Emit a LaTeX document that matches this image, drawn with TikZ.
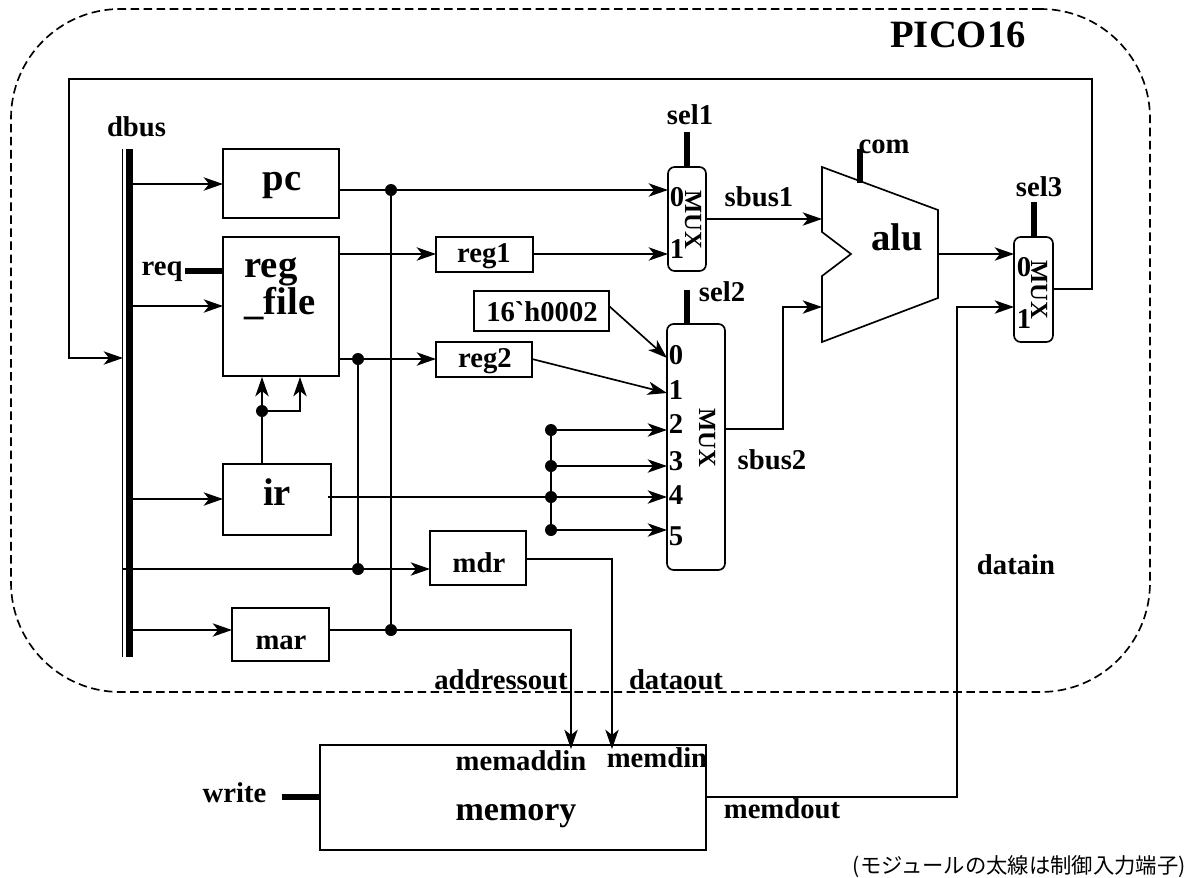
\documentclass[tikz,border=0pt]{standalone}
\usepackage{fontspec}
\setmainfont{Liberation Serif}
\newfontfamily\rawserif{Liberation Serif}
\newfontfamily\jpfont{Noto Sans CJK JP}
\usetikzlibrary{arrows.meta}
\newcommand\bxat[6]{% name x1 y1 x2 y2 style
  \pgfmathsetmacro\cxx{(#2+#4)/2}\pgfmathsetmacro\cyy{(#3+#5)/2}
  \pgfmathsetmacro\bww{(#4-#2)*0.75}\pgfmathsetmacro\bhh{(#5-#3)*0.75}
  \node[#6,minimum width=\bww pt,minimum height=\bhh pt] (#1) at (\cxx,\cyy) {};}
\tikzset{
  x=0.75pt,y=-0.75pt,
  wire/.style={line width=1.25pt,line join=miter},
  arr/.style={wire,-{Stealth[length=14.5pt,width=10pt,inset=4pt]}},
  ctl/.style={line width=4.3pt},
  box/.style={draw,line width=1.25pt,inner sep=0pt,outer sep=0pt},
  muxbox/.style={box,rounded corners=5pt},
  dot/.style={circle,fill=black,inner sep=0pt,minimum size=9pt},
  lab/.style={inner sep=0pt,anchor=base,font=\fontsize{21.5}{24}\selectfont\bfseries},
  big/.style={inner sep=0pt,anchor=base,font=\fontsize{29}{32}\selectfont\bfseries},
  mem/.style={inner sep=0pt,anchor=base,font=\fontsize{25.5}{28}\selectfont\bfseries},
  mux/.style={inner sep=0pt,font=\fontsize{18.5}{20}\selectfont\bfseries,rotate=-90},
}
\begin{document}
\begin{tikzpicture}
\useasboundingbox (0,0) rectangle (1200,878);
% chip outline
\bxat{chip}{11}{9}{1150}{692}{draw,line width=1.25pt,inner sep=0pt,rounded corners=82pt,dash pattern=on 6.4pt off 3.4pt}
% bus
\coordinate (busTop) at (129.5,149); \coordinate (busBot) at (129.5,657);
\draw[line width=5.2pt] (busTop) -- (busBot);
\coordinate (thinTop) at (122.5,149); \coordinate (thinBot) at (122.5,657);
\draw[wire] (thinTop) -- (thinBot);
% boxes
\bxat{pc}{223}{149}{339}{218}{box}
\bxat{rf}{223}{237}{339}{376}{box}
\bxat{ir}{223}{464}{331}{535}{box}
\bxat{mar}{232}{608}{329}{661}{box}
\bxat{reg1}{436}{237}{533}{272}{box}
\bxat{reg2}{436}{342}{532}{377}{box}
\bxat{konst}{474}{291}{609}{331}{box}
\bxat{mdr}{430}{531}{526}{585}{box}
\bxat{memory}{320}{745}{706}{850}{box}
\bxat{muxA}{668}{167}{706}{271}{muxbox}
\bxat{muxB}{667}{324}{725}{570}{muxbox}
\bxat{muxC}{1014}{237}{1053}{342}{muxbox}
% alu
\draw[wire,line join=miter] (822,167) -- (938,210) -- (938,298) -- (822,342) -- (822,276) -- (851,254) -- (822,232) -- cycle;
\coordinate (aluA) at (822,219); \coordinate (aluB) at (822,307); \coordinate (aluOut) at (938,254);
% junction dots
\node[dot] (j1) at (391,190) {};
\node[dot] (j2) at (391,630) {};
\node[dot] (j3) at (358,359) {};
\node[dot] (j4) at (358,569) {};
\node[dot] (j5) at (262,411) {};
\node[dot] (k2) at (551,430) {};
\node[dot] (k3) at (551,466) {};
\node[dot] (k4) at (551,497) {};
\node[dot] (k5) at (551,530) {};
% pins
\coordinate (fbOut) at (1053,289); \coordinate (fbA) at (1092,289); \coordinate (fbB) at (1092,79);
\coordinate (fbC) at (69,79); \coordinate (fbD) at (69,358); \coordinate (fbE) at (123,358);
\coordinate (bPc) at (133,184); \coordinate (pcIn) at (223,184);
\coordinate (bRf) at (133,306); \coordinate (rfIn) at (223,306);
\coordinate (bIr) at (133,499); \coordinate (irIn) at (223,499);
\coordinate (bMd) at (122,569); \coordinate (mdIn) at (430,569);
\coordinate (bMa) at (133,630); \coordinate (maIn) at (232,630);
\coordinate (pcOut) at (339,190); \coordinate (a0) at (668,190);
\coordinate (rfO1) at (339,254); \coordinate (r1In) at (436,254);
\coordinate (r1Out) at (533,254); \coordinate (a1) at (668,254);
\coordinate (rfO2) at (339,359); \coordinate (r2In) at (436,359);
\coordinate (r2Out) at (532,359); \coordinate (b1) at (667,393);
\coordinate (kOut) at (609,306); \coordinate (b0) at (667,358);
\coordinate (b2) at (667,430); \coordinate (b3) at (667,466); \coordinate (b4) at (667,497); \coordinate (b5) at (667,530);
\coordinate (irOut) at (328,497);
\coordinate (irTop) at (262,464); \coordinate (rfB1) at (262,377); \coordinate (rfB2) at (300,377);
\coordinate (j5r) at (300,411);
\coordinate (maOut) at (329,630); \coordinate (maC) at (571,630); \coordinate (memA) at (571,749);
\coordinate (mdOut) at (526,559); \coordinate (mdC) at (612,559); \coordinate (memD) at (612,749);
\coordinate (aOut) at (706,219);
\coordinate (bOut) at (725,429); \coordinate (bC) at (783,429); \coordinate (bD) at (783,307);
\coordinate (c0) at (1014,254); \coordinate (c1) at (1014,307);
\coordinate (mOut) at (706,797); \coordinate (mC) at (957,797); \coordinate (mD) at (957,307);
% connectors
\draw[arr] (fbOut) -- (fbA) -- (fbB) -- (fbC) -- (fbD) -- (fbE);
\draw[arr] (bPc) -- (pcIn);
\draw[arr] (bRf) -- (rfIn);
\draw[arr] (bIr) -- (irIn);
\draw[arr] (bMd) -- (mdIn);
\draw[arr] (bMa) -- (maIn);
\draw[arr] (pcOut) -- (a0);
\draw[wire] (j1) -- (j2);
\draw[arr] (rfO1) -- (r1In);
\draw[arr] (r1Out) -- (a1);
\draw[arr] (rfO2) -- (r2In);
\draw[wire] (j3) -- (j4);
\draw[arr] (r2Out) -- (b1);
\draw[arr] (kOut) -- (b0);
\draw[arr] (k2) -- (b2);
\draw[arr] (k3) -- (b3);
\draw[arr] (irOut) -- (b4);
\draw[arr] (k5) -- (b5);
\draw[wire] (k2) -- (k5);
\draw[arr] (irTop) -- (rfB1);
\draw[arr] (j5) -- (j5r) -- (rfB2);
\draw[arr] (maOut) -- (maC) -- (memA);
\draw[arr] (mdOut) -- (mdC) -- (memD);
\draw[arr] (aOut) -- (aluA);
\draw[arr] (bOut) -- (bC) -- (bD) -- (aluB);
\draw[arr] (aluOut) -- (c0);
\draw[arr] (mOut) -- (mC) -- (mD) -- (c1);
% control stubs
\coordinate (s1) at (687,132); \coordinate (s1b) at (687,167);
\coordinate (s2) at (687,290); \coordinate (s2b) at (687,324);
\coordinate (s3) at (1034,202); \coordinate (s3b) at (1034,237);
\coordinate (sc) at (860,149); \coordinate (scb) at (860,183);
\coordinate (sr) at (185,271); \coordinate (srb) at (223,271);
\coordinate (sw) at (282,797); \coordinate (swb) at (320,797);
\draw[ctl] (s1) -- (s1b); \draw[ctl] (s2) -- (s2b); \draw[ctl] (s3) -- (s3b);
\draw[ctl] (sc) -- (scb); \draw[ctl] (sr) -- (srb); \draw[ctl] (sw) -- (swb);
% texts
\node[big] (tPico) at (958,47) {PICO16};
\node[lab] (tDbus) at (136.5,136) {dbus};
\node[big] (tPc) at (282,190) {pc};
\node[big] (tReg) at (271,277) {reg};
\node[big] (tFile) at (280,314) {\_file};
\node[lab] (tReq) at (162,275) {req};
\node[big] (tIr) at (277,505) {ir};
\node[lab] (tMar) at (281,649) {mar};
\node[lab] (tReg1) at (484,262) {reg1};
\node[lab] (tReg2) at (485,367) {reg2};
\node[lab] (tKonst) at (542,321) {16{\rawserif`}h0002};
\node[lab] (tMdr) at (479,572) {mdr};
\node[lab] (tSel1) at (690,124) {sel1};
\node[lab] (tSel2) at (722,301) {sel2};
\node[lab] (tSel3) at (1039,196) {sel3};
\node[lab] (tCom) at (884,153) {com};
\node[lab] (tSb1) at (759,206) {sbus1};
\node[lab] (tSb2) at (772,469) {sbus2};
\node[lab] (tA0) at (677,206) {0};
\node[lab] (tA1) at (677,258) {1};
\node[lab] (tC0) at (1024,276) {0};
\node[lab] (tC1) at (1024,328) {1};
\node[lab] (tB0) at (676,364) {0};
\node[lab] (tB1) at (676,399) {1};
\node[lab] (tB2) at (676,433) {2};
\node[lab] (tB3) at (676,470) {3};
\node[lab] (tB4) at (676,504) {4};
\node[lab] (tB5) at (676,545) {5};
\node[mux] (tMa) at (693,220) {MUX};
\node[mux] (tMb) at (707,438) {MUX};
\node[mux] (tMc) at (1039,290) {MUX};
\node[big] (tAlu) at (897,250) {alu};
\node[lab] (tAddr) at (501,689) {addressout};
\node[lab] (tData) at (676,689) {dataout};
\node[lab] (tMa2) at (521,770) {memaddin};
\node[lab] (tMd2) at (657,767) {memdin};
\node[mem] (tMem) at (516,820) {memory};
\node[lab] (tMdo) at (782,818) {memdout};
\node[lab] (tWrite) at (234.5,802) {write};
\node[lab] (tDatain) at (1016,574) {datain};
\node[anchor=east,inner sep=0pt,font=\fontsize{16}{18}\selectfont\jpfont] (tNote) at (1186,867) {(モジュールの太線は制御入力端子)};
\end{tikzpicture}
\end{document}
